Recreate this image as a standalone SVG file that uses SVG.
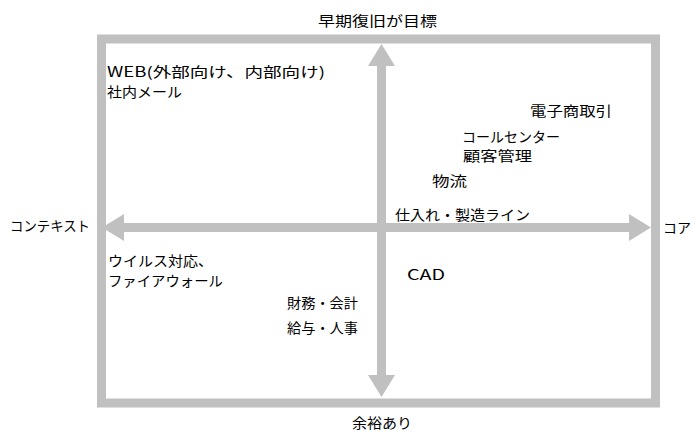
<svg xmlns="http://www.w3.org/2000/svg" width="695" height="432" viewBox="0 0 695 432">
<style>
  text { font-family: "Noto Sans CJK JP", "Noto Sans", sans-serif; font-size: 14px; fill: #000; }
  .frame { fill: none; stroke: #c0c0c0; stroke-width: 9; }
  .axis { stroke: #c0c0c0; stroke-width: 9; fill: none; }
</style>
<defs>
  <marker id="head" viewBox="0 0 22 27" refX="1" refY="13.5" markerWidth="22" markerHeight="27" markerUnits="userSpaceOnUse" orient="auto-start-reverse">
    <path d="M0,0 L22,13.5 L0,27 z" fill="#c0c0c0"/>
  </marker>
</defs>
<rect width="695" height="432" fill="#fff"/>
<g id="frame">
  <rect class="frame" x="101.5" y="39" width="554" height="364"/>
</g>
<g id="connectors">
  <line class="axis" x1="381.5" y1="65" x2="381.5" y2="376" marker-start="url(#head)" marker-end="url(#head)"/>
  <line class="axis" x1="123" y1="227.5" x2="630" y2="227.5" marker-start="url(#head)" marker-end="url(#head)"/>
</g>
<g id="axis-top"><text x="318" y="26" textLength="119" lengthAdjust="spacingAndGlyphs">早期復旧が目標</text></g>
<g id="axis-bottom"><text x="352" y="428" textLength="60" lengthAdjust="spacingAndGlyphs">余裕あり</text></g>
<g id="axis-left"><text x="10" y="231" textLength="80" lengthAdjust="spacingAndGlyphs">コンテキスト</text></g>
<g id="axis-right"><text x="663" y="233">コア</text></g>
<g id="web"><text x="107" y="77" textLength="218" lengthAdjust="spacingAndGlyphs">WEB(外部向け、内部向け)</text></g>
<g id="mail"><text x="107" y="97" textLength="75" lengthAdjust="spacingAndGlyphs">社内メール</text></g>
<g id="ec"><text x="530" y="116" textLength="82" lengthAdjust="spacingAndGlyphs">電子商取引</text></g>
<g id="callcenter"><text x="462" y="142" textLength="98" lengthAdjust="spacingAndGlyphs">コールセンター</text></g>
<g id="crm"><text x="463" y="161" textLength="69" lengthAdjust="spacingAndGlyphs">顧客管理</text></g>
<g id="logistics"><text x="432" y="186" textLength="35" lengthAdjust="spacingAndGlyphs">物流</text></g>
<g id="production"><text x="395" y="220" textLength="135" lengthAdjust="spacingAndGlyphs">仕入れ・製造ライン</text></g>
<g id="security">
  <text x="108" y="266" textLength="105" lengthAdjust="spacingAndGlyphs">ウイルス対応、</text>
  <text x="108" y="286" textLength="115" lengthAdjust="spacingAndGlyphs">ファイアウォール</text>
</g>
<g id="cad"><text x="407" y="280" font-size="13" textLength="38" lengthAdjust="spacingAndGlyphs">CAD</text></g>
<g id="finance">
  <text x="287" y="308" textLength="71" lengthAdjust="spacingAndGlyphs">財務・会計</text>
  <text x="287" y="333" textLength="71" lengthAdjust="spacingAndGlyphs">給与・人事</text>
</g>
</svg>
